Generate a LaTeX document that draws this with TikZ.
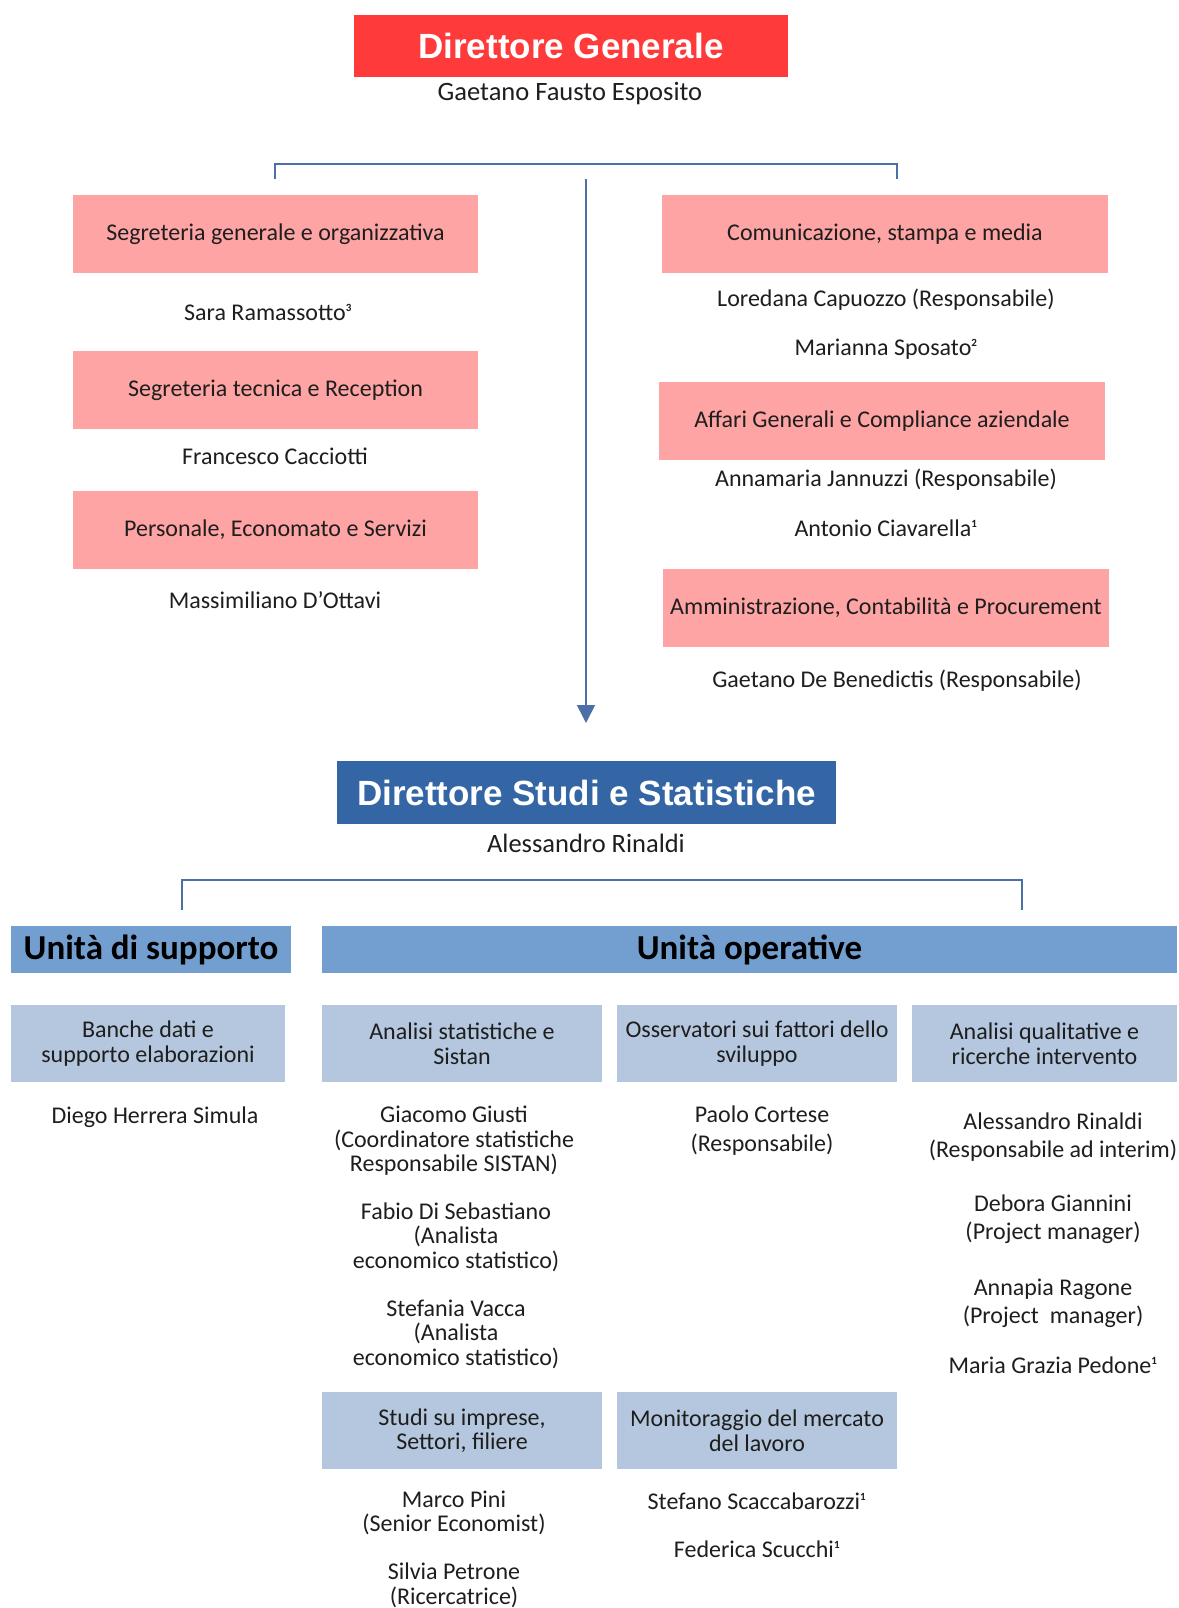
\documentclass[tikz,border=0pt]{standalone}
\usepackage{fontspec}
\setmainfont{Carlito}
\newfontfamily\arialf{Liberation Sans}
\usetikzlibrary{arrows.meta}
\definecolor{dgred}{HTML}{FF3A3A}
\definecolor{pinkbox}{HTML}{FFA4A4}
\definecolor{dssblue}{HTML}{3466A5}
\definecolor{hdrblue}{HTML}{729FCF}
\definecolor{subblue}{HTML}{B4C7DE}
\definecolor{linecol}{HTML}{4B70A8}
\definecolor{txt}{HTML}{1E1E1E}
\newcommand{\supn}[1]{\textsuperscript{\bfseries\fontsize{11}{11}\selectfont #1}}
\tikzset{
  every node/.style={inner sep=0pt, outer sep=0pt, text=txt},
  bigtitle/.style={fill=#1, text=white, font=\arialf\bfseries\fontsize{35}{35}\selectfont},
  pinkb/.style={fill=pinkbox, minimum height=78, font=\fontsize{24}{24}\selectfont},
  hdrb/.style={fill=hdrblue, minimum height=47, font=\bfseries\fontsize{35}{35}\selectfont, text=black},
  subb/.style={fill=subblue, minimum width=280, minimum height=77, align=center, font=\fontsize{24}{24.6}\selectfont},
  person/.style={align=center, yshift=-2pt, font=\fontsize{24}{24.6}\selectfont},
  personw/.style={align=center, yshift=-2pt, font=\fontsize{24}{28.3}\selectfont},
  headname/.style={yshift=-2pt, font=\fontsize{26.5}{26.5}\selectfont},
  conn/.style={draw=linecol, line width=1.6pt},
}
\begin{document}
\begin{tikzpicture}[x=1pt, y=-1pt]
\useasboundingbox[fill=white] (0,0) rectangle (1178,1608);

% Direttore Generale
\node[bigtitle=dgred, minimum width=434, minimum height=62] (dg) at (571,46) {Direttore Generale};
\node[headname] (dgname) at (570,92) {Gaetano Fausto Esposito};

% top bracket
\coordinate (tl) at (275,179);
\coordinate (tr) at (897,179);
\coordinate (tc) at (586,179);
\draw[conn] (tl) -- (275,164) -- (897,164) -- (tr);

% left column
\node[pinkb, minimum width=405] (sg) at (275.5,234) {Segreteria generale e organizzativa};
\node[person] (sgp) at (268,310) {Sara Ramassotto\supn{3}};
\node[pinkb, minimum width=405] (st) at (275.5,390) {Segreteria tecnica e Reception};
\node[person] (stp) at (275,454) {Francesco Cacciotti};
\node[pinkb, minimum width=405] (pe) at (275.5,530) {Personale, Economato e Servizi};
\node[person] (pep) at (275,598) {Massimiliano D’Ottavi};

% right column
\node[pinkb, minimum width=446] (cs) at (885,234) {Comunicazione, stampa e media};
\node[person] (csp1) at (886,298) {Loredana Capuozzo (Responsabile)};
\node[person] (csp2) at (886,347) {Marianna Sposato\supn{2}};
\node[pinkb, minimum width=446] (ag) at (882,421) {Affari Generali e Compliance aziendale};
\node[person] (agp1) at (886,478) {Annamaria Jannuzzi (Responsabile)};
\node[person] (agp2) at (886,526) {Antonio Ciavarella\supn{1}};
\node[pinkb, minimum width=446] (am) at (886,608) {Amministrazione, Contabilità e Procurement};
\node[person] (amp) at (897,679) {Gaetano De Benedictis (Responsabile)};

% Direttore Studi e Statistiche
\node[bigtitle=dssblue, minimum width=499, minimum height=63] (dss) at (586.5,792.5) {Direttore Studi e Statistiche};
\node[headname] (dssname) at (586,841) {Alessandro Rinaldi};

% central arrow
\coordinate (ae) at (586,723);
\draw[conn, -{Triangle[width=18pt,length=18pt]}] (tc) -- (ae);

% lower bracket
\coordinate (bl) at (182,910);
\coordinate (br) at (1022,910);
\draw[conn] (bl) -- (182,880) -- (1022,880) -- (br);

% headers
\node[hdrb, minimum width=280] (us) at (151,949.5) {Unità di supporto};
\node[hdrb, minimum width=855] (uo) at (749.5,949.5) {Unità operative};

% sub boxes
\node[subb, minimum width=274] (bd) at (148,1043.5) {Banche dati e\\supporto elaborazioni};
\node[subb] (as) at (462,1043.5) {Analisi statistiche e\\Sistan};
\node[subb] (os) at (757,1043.5) {Osservatori sui fattori dello\\sviluppo};
\node[subb, minimum width=265] (aq) at (1044.5,1043.5) {Analisi qualitative e\\ricerche intervento};

\node[person] (bdp) at (155,1115) {Diego Herrera Simula};

\node[person] (asp1) at (454,1139) {Giacomo Giusti\\(Coordinatore statistiche\\Responsabile SISTAN)};
\node[person] (asp2) at (456,1235) {Fabio Di Sebastiano\\(Analista\\economico statistico)};
\node[person] (asp3) at (456,1332) {Stefania Vacca\\(Analista\\economico statistico)};

\node[personw] (osp) at (762,1128.5) {Paolo Cortese\\(Responsabile)};

\node[personw] (aqp1) at (1053,1135) {Alessandro Rinaldi\\(Responsabile ad interim)};
\node[personw] (aqp2) at (1053,1217) {Debora Giannini\\(Project manager)};
\node[personw] (aqp3) at (1053,1301) {Annapia Ragone\\(Project\ \ manager)};
\node[person] (aqp4) at (1053,1363) {Maria Grazia Pedone\supn{1}};

\node[subb] (si) at (462,1430.5) {Studi su imprese,\\Settori, filiere};
\node[subb] (mm) at (757,1430.5) {Monitoraggio del mercato\\del lavoro};

\node[person] (sip1) at (454,1511) {Marco Pini\\(Senior Economist)};
\node[person] (sip2) at (454,1583.5) {Silvia Petrone\\(Ricercatrice)};

\node[person] (mmp1) at (757,1499) {Stefano Scaccabarozzi\supn{1}};
\node[person] (mmp2) at (757,1547) {Federica Scucchi\supn{1}};
\end{tikzpicture}
\end{document}
